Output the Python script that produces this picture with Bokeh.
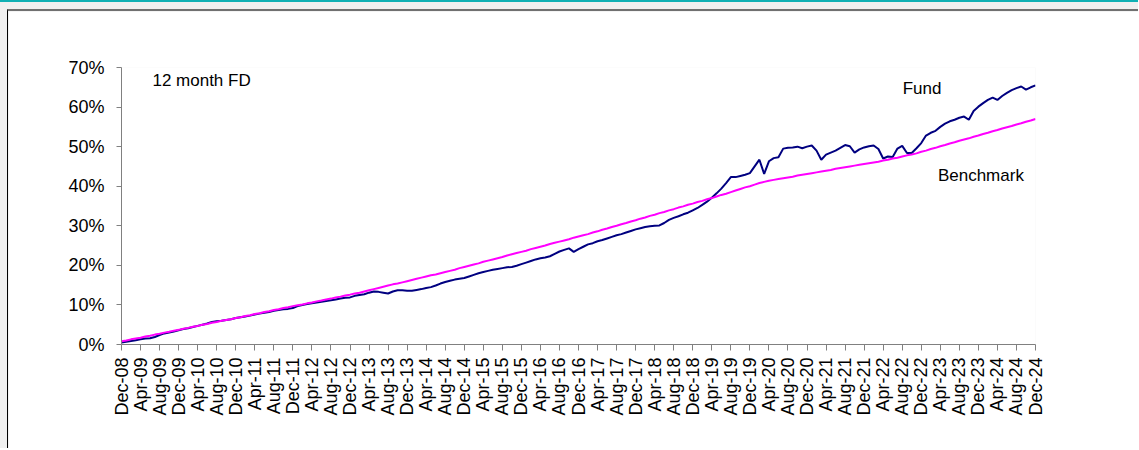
import math
from bokeh.plotting import figure
from bokeh.layouts import column
from bokeh.models import Range1d, FixedTicker, PrintfTickFormatter, Label
from bokeh.embed import file_html
from bokeh.resources import INLINE

tick_labels = [
    "Dec-08", "Apr-09", "Aug-09", "Dec-09", "Apr-10", "Aug-10", "Dec-10",
    "Apr-11", "Aug-11", "Dec-11", "Apr-12", "Aug-12", "Dec-12",
    "Apr-13", "Aug-13", "Dec-13", "Apr-14", "Aug-14", "Dec-14",
    "Apr-15", "Aug-15", "Dec-15", "Apr-16", "Aug-16", "Dec-16",
    "Apr-17", "Aug-17", "Dec-17", "Apr-18", "Aug-18", "Dec-18",
    "Apr-19", "Aug-19", "Dec-19", "Apr-20", "Aug-20", "Dec-20",
    "Apr-21", "Aug-21", "Dec-21", "Apr-22", "Aug-22", "Dec-22",
    "Apr-23", "Aug-23", "Dec-23", "Apr-24", "Aug-24", "Dec-24",
]

# monthly cumulative return (%), Dec-08 .. Dec-24
fund = [
    0.5,
    0.7, 0.9, 1.1, 1.3, 1.5, 1.6, 1.9, 2.4, 2.8, 3.0, 3.3, 3.6,
    3.9, 4.1, 4.4, 4.7, 5.0, 5.3, 5.7, 5.9, 6.0, 6.2, 6.4, 6.7,
    6.9, 7.1, 7.3, 7.6, 7.8, 8.0, 8.2, 8.5, 8.7, 8.9, 9.0, 9.2,
    9.7, 10.0, 10.2, 10.4, 10.6, 10.8, 11.0, 11.2, 11.4, 11.6, 11.8, 11.9,
    12.3, 12.5, 12.7, 13.1, 13.4, 13.3, 13.1, 12.9, 13.4, 13.7, 13.7, 13.6,
    13.6, 13.8, 14.0, 14.3, 14.5, 14.9, 15.4, 15.8, 16.1, 16.4, 16.6, 16.8,
    17.2, 17.6, 18.0, 18.3, 18.6, 18.9, 19.1, 19.3, 19.5, 19.6, 19.9, 20.3,
    20.7, 21.1, 21.5, 21.8, 22.0, 22.3, 22.9, 23.5, 23.9, 24.3, 23.4, 24.1,
    24.7, 25.3, 25.6, 26.1, 26.4, 26.8, 27.2, 27.6, 27.9, 28.3, 28.7, 29.1,
    29.4, 29.7, 29.9, 30.0, 30.1, 30.7, 31.5, 32.0, 32.4, 32.9, 33.3, 33.9,
    34.5, 35.3, 36.1, 37.1, 38.2, 39.4, 40.8, 42.3, 42.3, 42.6, 42.9, 43.3,
    45.0, 46.7, 43.1, 46.3, 47.1, 47.3, 49.5, 49.7, 49.8, 50.0, 49.6, 50.0,
    50.3, 49.0, 46.7, 48.0, 48.5, 49.0, 49.7, 50.4, 50.1, 48.5, 49.3, 49.8,
    50.1, 50.3, 49.4, 47.0, 47.5, 47.4, 49.5, 50.2, 48.4, 48.4, 49.6, 50.9,
    52.8, 53.5, 54.0, 55.0, 55.8, 56.4, 56.8, 57.3, 57.6, 56.8, 59.0, 60.1,
    61.0, 61.8, 62.4, 61.8, 62.8, 63.6, 64.3, 64.8, 65.2, 64.4, 65.0, 65.5,
]

benchmark = [
    0.8,
    1.0, 1.3, 1.5, 1.7, 2.0, 2.2, 2.5, 2.7, 3.0, 3.2, 3.5, 3.7,
    4.0, 4.2, 4.5, 4.7, 5.0, 5.2, 5.5, 5.7, 6.0, 6.2, 6.4, 6.7,
    6.9, 7.2, 7.4, 7.7, 7.9, 8.2, 8.4, 8.7, 8.9, 9.2, 9.4, 9.7,
    9.9, 10.1, 10.4, 10.6, 10.9, 11.1, 11.4, 11.6, 11.9, 12.1, 12.4, 12.6,
    12.9, 13.1, 13.4, 13.7, 14.0, 14.3, 14.6, 14.9, 15.2, 15.4, 15.7, 16.0,
    16.3, 16.6, 16.9, 17.2, 17.5, 17.7, 18.0, 18.3, 18.6, 18.9, 19.3, 19.6,
    19.9, 20.2, 20.5, 20.9, 21.2, 21.5, 21.8, 22.1, 22.5, 22.8, 23.1, 23.4,
    23.7, 24.1, 24.4, 24.7, 25.0, 25.4, 25.7, 26.0, 26.3, 26.6, 27.0, 27.3,
    27.6, 27.9, 28.3, 28.6, 29.0, 29.3, 29.7, 30.0, 30.4, 30.7, 31.1, 31.4,
    31.8, 32.1, 32.5, 32.8, 33.2, 33.5, 33.9, 34.2, 34.6, 34.9, 35.3, 35.6,
    36.0, 36.3, 36.7, 37.0, 37.4, 37.8, 38.1, 38.5, 38.9, 39.3, 39.7, 40.0,
    40.4, 40.8, 41.1, 41.4, 41.6, 41.8, 42.0, 42.2, 42.4, 42.7, 42.9, 43.1,
    43.3, 43.5, 43.7, 43.9, 44.1, 44.4, 44.6, 44.8, 45.0, 45.2, 45.4, 45.6,
    45.8, 46.0, 46.2, 46.5, 46.7, 47.0, 47.2, 47.5, 47.8, 48.0, 48.3, 48.7,
    49.0, 49.4, 49.7, 50.1, 50.4, 50.8, 51.1, 51.5, 51.8, 52.1, 52.5, 52.8,
    53.2, 53.5, 53.9, 54.2, 54.6, 54.9, 55.2, 55.6, 55.9, 56.3, 56.6, 57.0,
]

months = list(range(len(fund)))
x_ticks = list(range(0, len(fund), 4))
y_ticks = [0, 10, 20, 30, 40, 50, 60, 70]

FONT = "Liberation Sans"
AXIS_COLOR = "#808080"

p = figure(
    width=1131, height=439,
    x_range=Range1d(0, 192), y_range=Range1d(0, 70),
    output_backend="svg", toolbar_location=None, tools="",
    min_border_left=113, min_border_right=104,
    min_border_top=56, min_border_bottom=106,
    background_fill_color="white", border_fill_color="white",
)
p.styles = {"border-left": "1px solid #000000", "border-top": "2px solid #707070"}
p.outline_line_color = None
p.xgrid.grid_line_color = None
p.ygrid.grid_line_color = None

p.line(months, fund, line_color="#000080", line_width=2)
p.line(months, benchmark, line_color="#FF00FF", line_width=2)

xa = p.xaxis[0]
xa.ticker = FixedTicker(ticks=x_ticks)
xa.major_label_overrides = {t: lab for t, lab in zip(x_ticks, tick_labels)}
xa.major_label_orientation = math.pi / 2
xa.minor_tick_line_color = None
xa.major_tick_out = 6
xa.major_tick_in = 0
xa.major_label_standoff = 7

ya = p.yaxis[0]
ya.ticker = FixedTicker(ticks=y_ticks)
ya.formatter = PrintfTickFormatter(format="%d%%")
ya.minor_tick_line_color = None
ya.major_tick_out = 5
ya.major_tick_in = 0
ya.major_label_standoff = 12

for ax in (xa, ya):
    ax.axis_line_color = AXIS_COLOR
    ax.major_tick_line_color = AXIS_COLOR
    ax.major_label_text_font = FONT
    ax.major_label_text_font_size = "18px"
    ax.major_label_text_color = "#000000"

for txt, xx, yy in [("12 month FD", 6.5, 66.7), ("Fund", 164.1, 64.7), ("Benchmark", 171.5, 42.7)]:
    p.add_layout(Label(x=xx, y=yy, text=txt, text_font=FONT, text_font_size="17px",
                       text_color="#000000", text_baseline="middle", text_align="left"))

page = column(p, styles={"background-color": "#f0f0f0",
                         "border-top": "2px solid #10b0b4",
                         "padding-left": "7px", "padding-top": "7px"})

open("out.html", "w").write(file_html(page, INLINE))
